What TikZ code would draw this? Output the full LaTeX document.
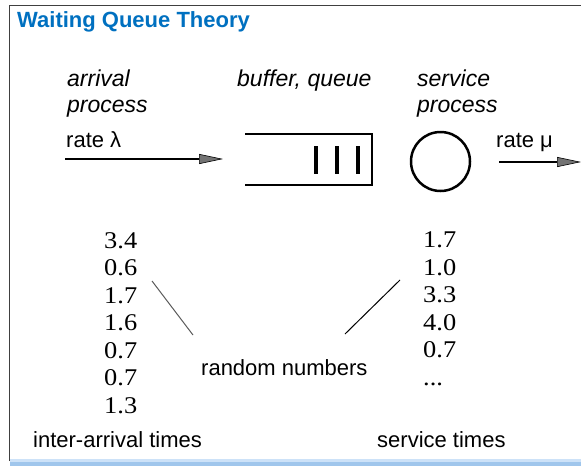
\documentclass[tikz,border=0pt]{standalone}
\usepackage{fontspec}
\setmainfont{Liberation Sans}
\newfontfamily\numfont[FakeStretch=1.1]{Liberation Serif}
\usetikzlibrary{arrows.meta}
\definecolor{titleblue}{RGB}{0,112,192}
\definecolor{framegray}{RGB}{64,64,64}
\definecolor{bandblue}{RGB}{160,198,236}
\definecolor{bandlight}{RGB}{205,226,248}
\definecolor{headgray}{RGB}{115,115,115}
\definecolor{pointergray}{RGB}{90,90,90}

\begin{document}
\begin{tikzpicture}[x=1pt,y=-1pt,
  lbl/.style={inner sep=0pt, anchor=base west, font=\fontsize{22}{26}\selectfont},
  ilbl/.style={inner sep=0pt, anchor=base west, font=\fontsize{23}{27}\selectfont\itshape},
  titletext/.style={inner sep=0pt, anchor=base west, text=titleblue,
    font=\fontsize{22}{26}\selectfont\bfseries},
  num/.style={inner sep=0pt, anchor=base west, font=\numfont\fontsize{24}{27}\selectfont},
  flow/.style={line width=2.8pt,
    -{Triangle[length=24pt,width=10pt,line width=0.6pt,fill=headgray]}},
  queueline/.style={line width=2.6pt},
  slot/.style={line width=3.5pt},
  server/.style={circle, draw, line width=2.5pt, minimum size=59pt, inner sep=0pt},
  pointer/.style={line width=1pt, pointergray},
]
\useasboundingbox (0,0) rectangle (581,466);

% slide frame and bottom band
\fill[bandlight] (10,459) rectangle (581,462);
\fill[bandblue] (10,462) rectangle (581,466);
\draw[framegray, line width=1.8pt] (9.5,461) -- (9.5,5.5) -- (581,5.5);

% title
\node[titletext] (title) at (17,27) {Waiting Queue Theory};

% headings
\node[ilbl] (arrA) at (67,86) {arrival};
\node[ilbl] (arrB) at (67,112) {process};
\node[ilbl] (buf) at (237,86) {buffer, queue};
\node[ilbl] (srvA) at (417,86) {service};
\node[ilbl] (srvB) at (417,112) {process};

% arrival stream
\node[lbl] (lamb) at (66,147) {rate λ};
\coordinate (inS) at (65,159);
\coordinate (inE) at (223,159);
\draw[flow] (inS) -- (inE);

% buffer
\coordinate (qTL) at (245,134);
\coordinate (qTR) at (372,134);
\coordinate (qBR) at (372,185);
\coordinate (qBL) at (245,185);
\draw[queueline] (qTL) -- (qTR) -- (qBR) -- (qBL);
\foreach \x in {316,337,358}
  \draw[slot] (\x,146) -- (\x,174);

% server
\node[server] (srv) at (440.5,161.5) {};

% departure stream
\node[lbl] (mu) at (496,147) {rate μ};
\coordinate (outS) at (499,162);
\coordinate (outE) at (581,162);
\draw[flow] (outS) -- (outE);

% inter-arrival times
\foreach \v [count=\i from 0] in {3.4,0.6,1.7,1.6,0.7,0.7,1.3}
  \node[num] (ia\i) at (104,248+27.5*\i) {\v};

% service times
\foreach \v [count=\i from 0] in {1.7,1.0,3.3,4.0,0.7}
  \node[num] (st\i) at (423,247.5+27.5*\i) {\v};
\node[num] (stdots) at (423,385) {...};

% random numbers label and pointers
\node[lbl] (rnd) at (201,375) {random numbers};
\coordinate (pL1) at (152,281);
\coordinate (pL2) at (193,335);
\coordinate (pR1) at (345,334);
\coordinate (pR2) at (400,280);
\draw[pointer] (pL1) -- (pL2);
\draw[pointer, black] (pR1) -- (pR2);

% captions
\node[lbl] (iat) at (33,447) {inter-arrival times};
\node[lbl] (svt) at (377,447) {service times};
\end{tikzpicture}
\end{document}
